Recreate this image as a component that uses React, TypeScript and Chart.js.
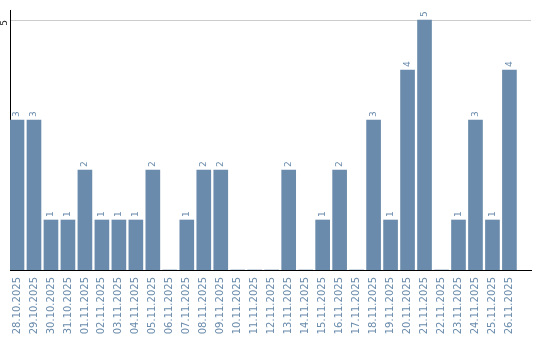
import React, { useEffect, useRef } from "react";
import { Chart, registerables } from "chart.js";

Chart.register(...registerables);

const categories = [
  "28.10.2025", "29.10.2025", "30.10.2025", "31.10.2025", "01.11.2025",
  "02.11.2025", "03.11.2025", "04.11.2025", "05.11.2025", "06.11.2025",
  "07.11.2025", "08.11.2025", "09.11.2025", "10.11.2025", "11.11.2025",
  "12.11.2025", "13.11.2025", "14.11.2025", "15.11.2025", "16.11.2025",
  "17.11.2025", "18.11.2025", "19.11.2025", "20.11.2025", "21.11.2025",
  "22.11.2025", "23.11.2025", "24.11.2025", "25.11.2025", "26.11.2025",
];
const values = [3, 3, 1, 1, 2, 1, 1, 1, 2, 0, 1, 2, 2, 0, 0, 0, 2, 0, 1, 2, 0, 3, 1, 4, 5, 0, 1, 3, 1, 4];
const yTicks = [5];

const BAR_COLOR = "#6a8bab";
const LABEL_COLOR = "#6a8bab";

const valueLabels = {
  id: "valueLabels",
  afterDatasetsDraw(chart: any) {
    const ctx = chart.ctx;
    const meta = chart.getDatasetMeta(0);
    ctx.save();
    ctx.font = "9px 'DejaVu Sans'";
    ctx.fillStyle = LABEL_COLOR;
    ctx.textAlign = "left";
    ctx.textBaseline = "middle";
    meta.data.forEach((el: any, i: number) => {
      const v = values[i];
      if (!v) return;
      ctx.save();
      ctx.translate(el.x, el.y - 3);
      ctx.rotate(-Math.PI / 2);
      ctx.fillText(String(v), 0, 0);
      ctx.restore();
    });
    const ys = chart.scales.y;
    ctx.fillStyle = "#222";
    ctx.textAlign = "center";
    yTicks.forEach((t) => {
      const py = ys.getPixelForValue(t);
      ctx.save();
      ctx.translate(5, py + 3);
      ctx.rotate(-Math.PI / 2);
      ctx.fillText(String(t), 0, 0);
      ctx.restore();
    });
    ctx.restore();
  },
};

export default function App() {
  const ref = useRef<HTMLCanvasElement>(null);
  useEffect(() => {
    document.body.style.margin = "0";
    const chart = new Chart(ref.current!, {
      type: "bar",
      data: {
        datasets: [
          {
            data: values.map((v, i) => ({ x: i, y: v })),
            backgroundColor: BAR_COLOR,
            barThickness: 14,
          },
        ],
      },
      options: {
        responsive: false,
        animation: false,
        layout: { padding: { top: 10, right: 9, left: 0, bottom: 0 } },
        plugins: { legend: { display: false }, tooltip: { enabled: false } },
        scales: {
          x: {
            type: "linear",
            offset: false,
            min: -0.412,
            max: 30.27,
            afterBuildTicks: (s: any) => {
              s.ticks = categories.map((_, i) => ({ value: i }));
            },
            afterFit: (s: any) => {
              s.height = 70;
            },
            ticks: {
              autoSkip: false,
              minRotation: 90,
              maxRotation: 90,
              padding: 7,
              color: LABEL_COLOR,
              font: { family: "'DejaVu Sans'", size: 10 },
              callback: (v: any) => categories[v] ?? "",
            },
            grid: { display: true, color: "rgba(0,0,0,0)", drawTicks: false },
            border: { display: true, color: "#000", width: 1 },
          },
          y: {
            min: 0,
            max: 5.2,
            afterBuildTicks: (s: any) => {
              s.ticks = yTicks.map((v) => ({ value: v }));
            },
            afterFit: (s: any) => {
              s.width = 10;
            },
            ticks: { display: false },
            grid: { color: "#cccccc", drawTicks: false },
            border: { display: true, color: "#000", width: 1 },
          },
        },
      },
      plugins: [valueLabels],
    });
    return () => chart.destroy();
  }, []);
  return (
    <div style={{ position: "absolute", left: 0, top: 0, width: 540, height: 340 }}>
      <canvas ref={ref} width={540} height={340} />
    </div>
  );
}
